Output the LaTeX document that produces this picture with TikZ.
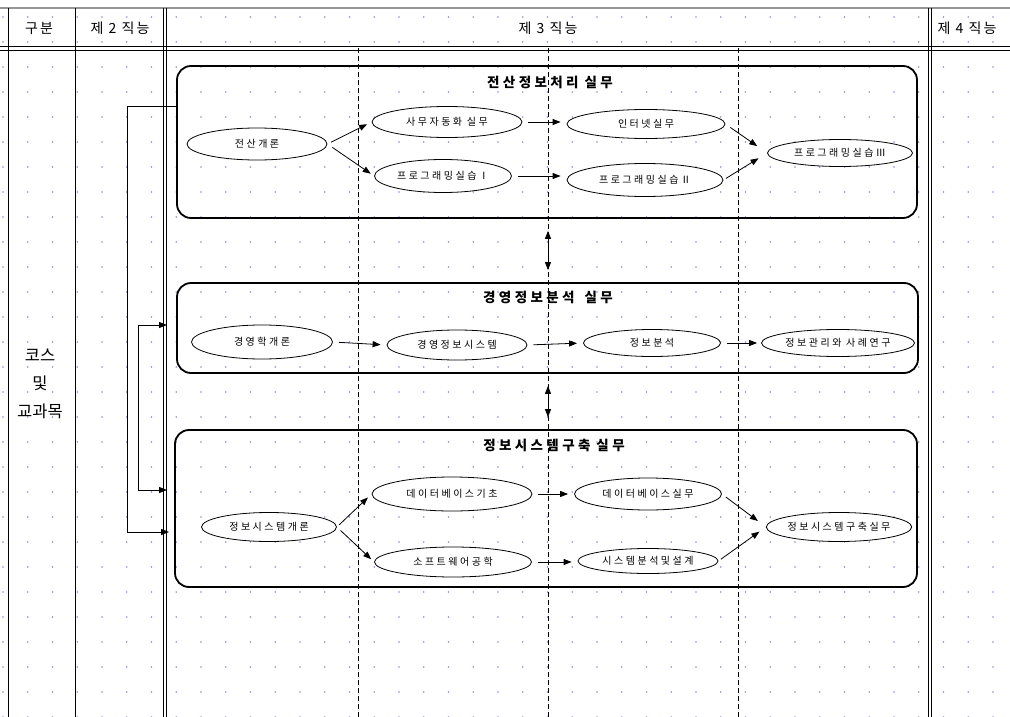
\documentclass[tikz,border=0pt]{standalone}
\usepackage{fontspec}
\setmainfont{Noto Sans CJK KR}
\newfontfamily\widefont{Noto Sans CJK KR}[LetterSpace=25]
\newfontfamily\hdrfont{Noto Sans CJK KR}[LetterSpace=15]
\newfontfamily\ttlfont{Noto Sans CJK KR}[LetterSpace=25]
\usetikzlibrary{shapes.geometric,arrows.meta}
\definecolor{dotc}{RGB}{140,140,215}
\definecolor{topgrey}{RGB}{150,150,150}
\begin{document}
\begin{tikzpicture}[x=1pt,y=-1pt,
 course/.style={draw,ellipse,fill=white,line width=0.8pt,inner sep=0pt,font=\widefont\fontsize{10}{11}\selectfont},
 box/.style={draw,line width=1.8pt,rounded corners=14pt,inner sep=0pt},
 ttl/.style={font=\ttlfont\fontsize{13.5}{15}\selectfont\bfseries},
 hdr/.style={font=\hdrfont\fontsize{14}{16}\selectfont},
 side/.style={font=\fontsize{16.5}{18}\selectfont},
 arr/.style={-{Triangle[length=8pt,width=6pt]},line width=0.8pt},
 dbl/.style={{Triangle[length=8pt,width=6pt]}-{Triangle[length=8pt,width=6pt]},line width=0.8pt},
 colline/.style={line width=0.8pt},
 dashline/.style={line width=0.8pt,dash pattern=on 5pt off 3pt}]
\useasboundingbox (0,0) rectangle (1010,717);
\clip (0,0) rectangle (1010,717);
\fill[white] (0,0) rectangle (1010,717);
% grid dots
\foreach \i in {0,...,41}{\foreach \j in {0,...,28}{\fill[dotc] (3+24.75*\i,17+25*\j) circle (0.85pt);}}
% table lines
\draw[topgrey,line width=1.5pt] (0,8) -- (1010,8);
\draw[line width=1.2pt] (0,46.5) -- (1010,46.5);
\draw[line width=0.8pt] (0,50) -- (1010,50);
\draw[colline] (8,8) -- (8,717);
\draw[colline] (75,8) -- (75,717);
\draw[colline] (163.5,8) -- (163.5,717);
\draw[colline] (166.5,8) -- (166.5,717);
\draw[colline] (928.5,8) -- (928.5,717);
\draw[colline] (931.5,8) -- (931.5,717);
% dashed dividers
\draw[dashline] (358,48) -- (358,717);
\draw[dashline] (548,48) -- (548,717);
\draw[dashline] (738,48) -- (738,717);
% header
\node[hdr] (h0) at (39,28) {구분};
\node[hdr] (h2) at (120,28) {제 2 직능};
\node[hdr] (h3) at (548,28) {제 3 직능};
\node[hdr,anchor=west] (h4) at (934,28) {제 4 직능};
% left column
\node[side] (l1) at (40,355) {코스};
\node[side] (l2) at (40,383) {및};
\node[side] (l3) at (40,411) {교과목};
% boxes
\node[box,minimum width=740pt,minimum height=152pt] (b1) at (547,142) {};
\node[box,minimum width=741pt,minimum height=90pt] (b2) at (547.5,328) {};
\node[box,minimum width=742pt,minimum height=157pt] (b3) at (546,508.5) {};
\node[ttl] (t1) at (550,82) {전산정보처리\hspace{6pt}실무};
\node[ttl] (t2) at (548,297) {경영정보분석\hspace{10pt}실무};
\node[ttl] (t3) at (554,445) {정보시스템구축\hspace{6pt}실무};
% box 1 courses
\node[course,minimum width=140pt,minimum height=32pt] (a1) at (257,144) {전산개론};
\node[course,minimum width=150pt,minimum height=31pt] (a2) at (447,122) {사무자동화 실무};
\node[course,minimum width=137pt,minimum height=33pt] (a3) at (443,176) {프로그래밍실습Ⅰ};
\node[course,minimum width=158pt,minimum height=29pt] (a4) at (646,124) {인터넷실무};
\node[course,minimum width=156pt,minimum height=33pt] (a5) at (645,180) {프로그래밍실습Ⅱ};
\node[course,minimum width=145pt,minimum height=27pt] (a6) at (840,153) {프로그래밍실습Ⅲ};
% box 2 courses
\node[course,minimum width=141pt,minimum height=34pt] (c1) at (262,342) {경영학개론};
\node[course,minimum width=140pt,minimum height=30pt] (c2) at (457,345) {경영정보시스템};
\node[course,minimum width=137pt,minimum height=27pt] (c3) at (652,343) {정보분석};
\node[course,minimum width=153pt,minimum height=27pt] (c4) at (838,343) {정보관리와 사례연구};
% box 3 courses
\node[course,minimum width=135pt,minimum height=29pt] (d1) at (269,527) {정보시스템개론};
\node[course,minimum width=160pt,minimum height=34pt] (d2) at (452,494) {데이터베이스기초};
\node[course,minimum width=157pt,minimum height=30pt] (d3) at (453,562) {소프트웨어공학};
\node[course,minimum width=147pt,minimum height=32pt] (d4) at (648,494) {데이터베이스실무};
\node[course,minimum width=140pt,minimum height=25pt] (d5) at (648,561) {시스템분석및설계};
\node[course,minimum width=142pt,minimum height=29pt] (d6) at (839,527) {정보시스템구축실무};
% arrows box 1
\draw[arr,shorten <=4pt,shorten >=5pt] (a1.east) -- (a2.west);
\draw[arr,shorten <=6pt,shorten >=4pt] (a1.east) -- (a3.west);
\draw[arr,shorten <=6pt,shorten >=6pt] (a2.east) -- (a4.west |- a2.east);
\draw[arr,shorten <=6pt,shorten >=6pt] (a3.east) -- (a5.west |- a3.east);
\draw[arr,shorten <=6pt,shorten >=12pt] (a4.east) -- (a6.west);
\draw[arr,shorten <=3pt,shorten >=10pt] (a5.east) -- (a6.west);
% arrows box 2
\draw[arr,shorten <=6pt,shorten >=6pt] (c1.east) -- (c2.west);
\draw[arr,shorten <=6pt,shorten >=6pt] (c2.east) -- (c3.west);
\draw[arr,shorten <=6pt,shorten >=4pt] (c3.east) -- (c4.west);
% arrows box 3
\draw[arr,shorten <=3pt,shorten >=5pt] (d1.east) -- (d2.west);
\draw[arr,shorten <=5pt,shorten >=4pt] (d1.east) -- (d3.west);
\draw[arr,shorten <=6pt,shorten >=6pt] (d2.east) -- (d4.west |- d2.east);
\draw[arr,shorten <=6pt,shorten >=6pt] (d3.east) -- (d5.west |- d3.east);
\draw[arr,shorten <=5pt,shorten >=10pt] (d4.east) -- (d6.west);
\draw[arr,shorten <=3pt,shorten >=8pt] (d5.east) -- (d6.west);
% between boxes
\draw[dbl,shorten <=12pt,shorten >=12pt] (b1.south -| t2) -- (b2.north -| t2);
\draw[dbl,shorten <=12pt,shorten >=12pt] (b2.south -| t2) -- (b3.north -| t2);
% left connectors
\coordinate (s1) at (177,106);
\coordinate (e1) at (169,532);
\draw[arr] (s1) -- (127,106) -- (127,532) -- (e1);
\coordinate (m) at (138,408);
\coordinate (e2) at (167,325);
\coordinate (e3) at (167,490);
\draw[arr] (m) |- (e2);
\draw[arr] (m) |- (e3);
\end{tikzpicture}
\end{document}
